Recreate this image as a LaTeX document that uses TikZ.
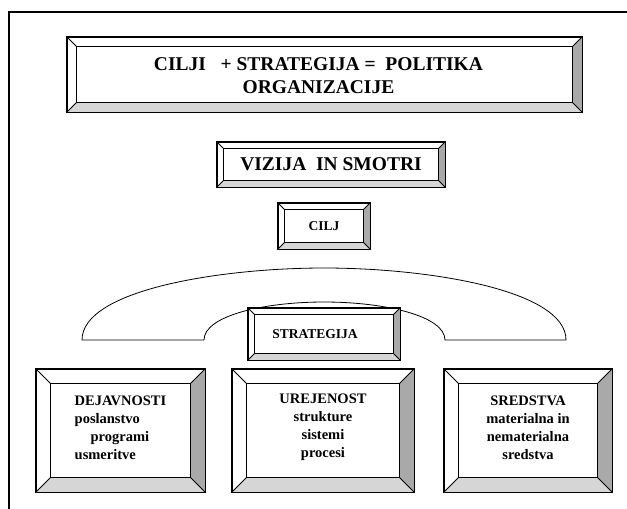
\documentclass[tikz,border=0pt]{standalone}
\usepackage{fontspec}
\setmainfont{Liberation Serif}
\usetikzlibrary{calc}
\definecolor{sidegray}{HTML}{A9A9A9}
\definecolor{basegray}{HTML}{D6D6D6}
\tikzset{
  bbox/.style={draw,line width=1pt,fill=white,inner sep=0pt},
  btext/.style={align=center,font=\bfseries,inner sep=0pt},
}
% bevelled frame round a named node: #1 node, #2 bevel width
\newcommand{\bevelframe}[2]{%
  \fill[sidegray] (#1.north east) -- (#1.south east) -- ($(#1.south east)+(-#2pt,#2pt)$) -- ($(#1.north east)+(-#2pt,-#2pt)$) -- cycle;
  \fill[basegray] (#1.south west) -- (#1.south east) -- ($(#1.south east)+(-#2pt,#2pt)$) -- ($(#1.south west)+(#2pt,#2pt)$) -- cycle;
  \draw[line width=0.8pt] ($(#1.south west)+(#2pt,#2pt)$) rectangle ($(#1.north east)+(-#2pt,-#2pt)$);
  \draw[line width=0.8pt] (#1.north west) -- ++(#2pt,-#2pt) (#1.north east) -- ++(-#2pt,-#2pt)
    (#1.south west) -- ++(#2pt,#2pt) (#1.south east) -- ++(-#2pt,#2pt);
  \draw[line width=1pt] (#1.south west) rectangle (#1.north east);
}
\begin{document}
\begin{tikzpicture}[x=1pt,y=-1pt]
\useasboundingbox (0,0) rectangle (627,509);
\draw[line width=1.4pt] (627,12) -- (9,12) -- (9,509);

\node[bbox,minimum width=515pt,minimum height=75pt] (politika) at (324.5,74.5) {};
\bevelframe{politika}{10}
\node[btext,font=\bfseries\fontsize{19.5}{23}\selectfont] (politikatext) at ([xshift=-6pt,yshift=-1.5pt]politika.center) {CILJI \ \ + STRATEGIJA = \ POLITIKA\\ORGANIZACIJE};

\node[bbox,minimum width=228pt,minimum height=45pt] (vizija) at (331,164.5) {};
\bevelframe{vizija}{7}
\node[btext,font=\bfseries\fontsize{19.5}{23}\selectfont] (viziatext) at (vizija.center) {VIZIJA \ IN SMOTRI};

\node[bbox,minimum width=92pt,minimum height=46pt] (cilj) at (324,226) {};
\bevelframe{cilj}{7}
\node[btext,font=\bfseries\fontsize{13.5}{15}\selectfont] (ciljtext) at (cilj.center) {CILJ};

% lok nad strategijo
\draw[line width=0.8pt] (82,340) .. controls (82,290) and (220,268) .. (324,268)
  .. controls (428,268) and (566,290) .. (566,340) -- (445,340)
  .. controls (445,316) and (385,302) .. (324,302)
  .. controls (263,302) and (204,316) .. (204,340) -- cycle;

\node[bbox,minimum width=152pt,minimum height=52pt] (strategija) at (324,334) {};
\bevelframe{strategija}{7}
\node[btext,font=\bfseries\fontsize{13.5}{16}\selectfont] (strategijatext) at ([xshift=-9pt]strategija.center) {STRATEGIJA};

\node[bbox,minimum width=169pt,minimum height=123pt] (dejavnosti) at (120.5,430.5) {};
\node[bbox,minimum width=182pt,minimum height=123pt] (urejenost) at (323,430.5) {};
\node[bbox,minimum width=168pt,minimum height=123pt] (sredstva) at (528,430.5) {};
\foreach \n in {dejavnosti,urejenost,sredstva} {
  \bevelframe{\n}{15}
}
\tikzset{btext/.append style={font=\bfseries\fontsize{14.5}{18}\selectfont}}
\node[btext,align=left] (dejavnostitext) at ([yshift=3pt]dejavnosti.center) {DEJAVNOSTI\\poslanstvo\\\hspace{1.1em}programi\\usmeritve};
\node[btext] (urejenosttext) at ([yshift=3pt]urejenost.center) {UREJENOST\\strukture\\sistemi\\procesi};
\node[btext] (sredstvatext) at ([yshift=3pt]sredstva.center) {SREDSTVA\\materialna in\\nematerialna\\sredstva};
\end{tikzpicture}
\end{document}
